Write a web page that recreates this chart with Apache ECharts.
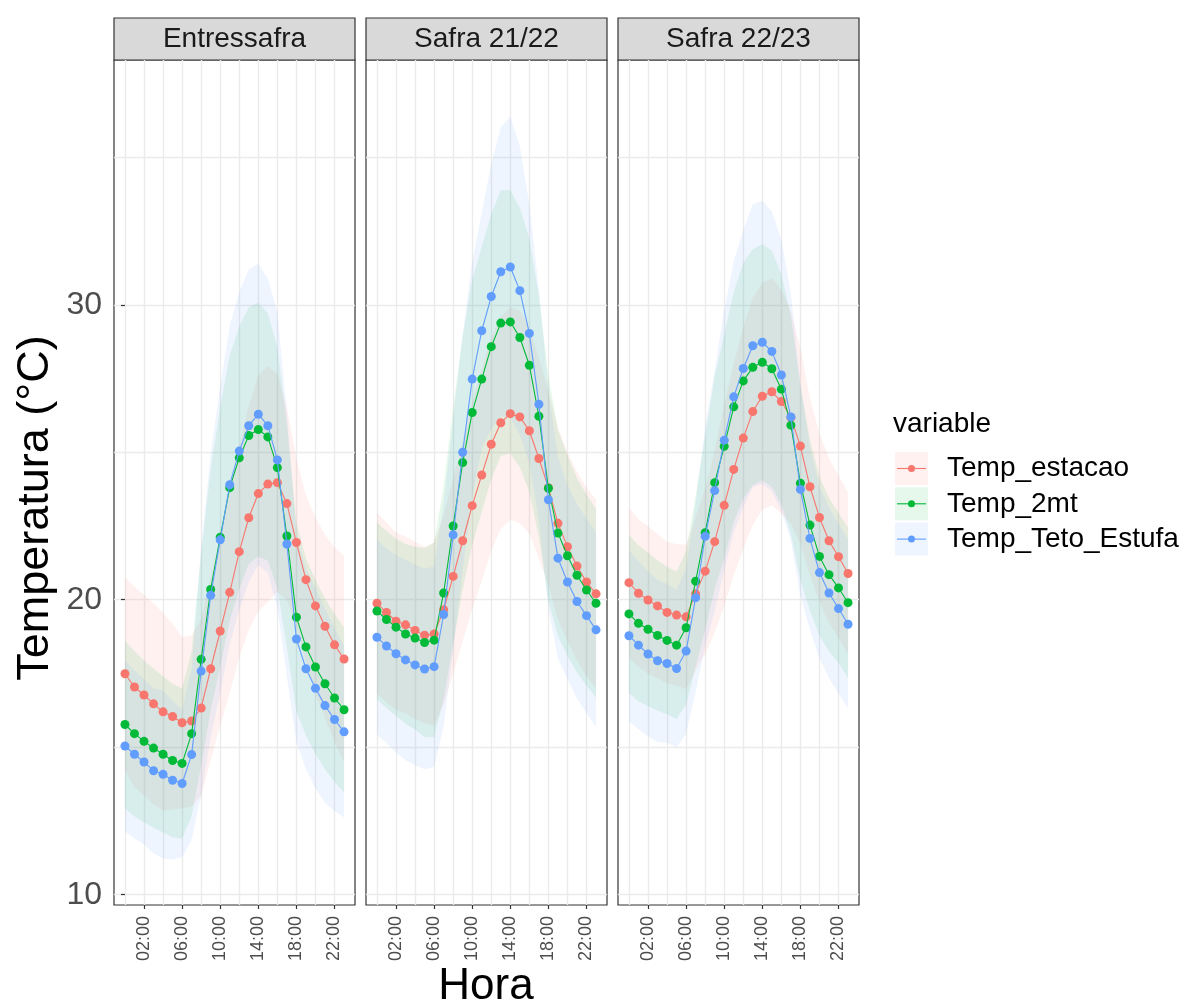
<!DOCTYPE html>
<html>
<head>
<meta charset="utf-8">
<script src="https://cdn.jsdelivr.net/npm/echarts@6/dist/echarts.min.js"></script>
<style>
  html, body { margin: 0; padding: 0; background: #fff; }
  #chart { width: 1191px; height: 1007px; }
</style>
</head>
<body>
<div id="chart"></div>
<script>
// horas do dia
const hours = [0,1,2,3,4,5,6,7,8,9,10,11,12,13,14,15,16,17,18,19,20,21,22,23];
const panels = ["Entressafra", "Safra 21/22", "Safra 22/23"];
const variables = ["Temp_estacao", "Temp_2mt", "Temp_Teto_Estufa"];
const colors = ["#F8766D", "#00BA38", "#619CFF"];
const yTicks = [10, 20, 30];
const xTicks = [2, 6, 10, 14, 18, 22];
const yGrid = [10, 15, 20, 25, 30, 35];
const xGrid = [0, 2, 4, 6, 8, 10, 12, 14, 16, 18, 20, 22];

// Entressafra: media e desvio
const entreEstacao = [17.49,17.04,16.77,16.47,16.2,16.04,15.83,15.89,16.33,17.66,18.94,20.25,21.63,22.78,23.6,23.92,23.97,23.26,21.94,20.68,19.79,19.1,18.47,17.99];
const entreEstacaoSd = [3.27,3.4,3.4,3.4,3.35,3.15,2.9,2.9,3.0,3.1,3.2,3.4,3.6,3.8,4.0,4.0,3.7,3.25,2.85,2.85,3.0,3.1,3.3,3.5];
const entre2mt = [15.77,15.46,15.2,14.97,14.76,14.55,14.45,15.46,17.98,20.35,22.12,23.8,24.81,25.57,25.77,25.52,24.48,22.16,19.41,18.4,17.72,17.15,16.67,16.27];
const entre2mtSd = [2.85,2.8,2.75,2.7,2.65,2.6,2.55,2.8,3.6,4.1,4.4,4.5,4.45,4.35,4.3,4.2,4.1,3.8,3.2,3.0,2.95,2.9,2.85,2.8];
const entreTeto = [15.04,14.76,14.5,14.2,14.08,13.88,13.77,14.75,17.58,20.15,22.03,23.9,25.04,25.9,26.29,25.9,24.74,21.89,18.67,17.66,17.0,16.41,15.94,15.52];
const entreTetoSd = [2.9,2.85,2.8,2.8,2.85,2.7,2.5,2.9,4.2,4.8,5.2,5.4,5.4,5.3,5.1,5.0,5.0,4.5,3.5,3.4,3.4,3.3,3.1,2.9];

// Safra 21/22
const s21Estacao = [19.88,19.57,19.27,19.15,18.96,18.8,18.84,19.66,20.79,22.0,23.19,24.23,25.27,26.0,26.31,26.2,25.73,24.79,23.8,22.59,21.8,21.14,20.6,20.2];
const s21EstacaoSd = [3.07,3.05,3.0,3.0,3.0,3.0,3.1,3.2,3.3,3.4,3.5,3.6,3.6,3.6,3.6,3.6,3.5,3.4,3.3,3.25,3.2,3.2,3.2,3.2];
const s21_2mt = [19.62,19.33,19.07,18.84,18.7,18.55,18.63,20.23,22.5,24.65,26.35,27.48,28.58,29.38,29.42,28.89,27.95,26.22,23.78,22.26,21.49,20.83,20.33,19.88];
const s21_2mtSd = [3.0,3.0,3.0,3.05,3.1,3.2,3.3,3.6,4.0,4.3,4.5,4.5,4.5,4.5,4.46,4.4,4.3,4.1,3.8,3.5,3.4,3.3,3.25,3.2];
const s21Teto = [18.73,18.43,18.17,17.96,17.79,17.65,17.73,19.5,22.2,25.0,27.48,29.12,30.28,31.12,31.28,30.48,29.03,26.63,23.39,21.41,20.6,19.94,19.46,18.98];
const s21TetoSd = [3.3,3.3,3.35,3.4,3.4,3.4,3.4,3.8,3.9,4.0,4.0,4.0,4.5,4.9,5.1,4.9,4.4,3.9,3.7,3.4,3.3,3.3,3.3,3.3];

// Safra 22/23
const s22Estacao = [20.58,20.22,19.99,19.79,19.57,19.48,19.42,20.2,20.97,21.97,23.2,24.42,25.48,26.38,26.9,27.05,26.72,26.18,25.21,23.83,22.79,22.0,21.46,20.89];
const s22EstacaoSd = [2.55,2.5,2.5,2.45,2.4,2.4,2.45,2.6,2.8,3.1,3.4,3.6,3.75,3.85,3.85,3.85,3.8,3.6,3.3,3.0,2.85,2.8,2.75,2.75];
const s22_2mt = [19.52,19.2,19.0,18.79,18.62,18.46,19.05,20.63,22.27,23.97,25.2,26.54,27.42,27.88,28.05,27.83,27.14,25.92,23.95,22.53,21.47,20.85,20.4,19.9];
const s22_2mtSd = [2.68,2.65,2.6,2.55,2.5,2.5,2.6,2.9,3.3,3.6,3.8,3.9,4.0,4.0,4.0,4.0,3.9,3.7,3.3,2.9,2.7,2.6,2.55,2.55];
const s22Teto = [18.78,18.46,18.16,17.93,17.84,17.67,18.26,20.07,22.15,23.7,25.41,26.88,27.84,28.61,28.73,28.42,27.62,26.2,23.74,22.08,20.92,20.23,19.7,19.17];
const s22TetoSd = [2.9,2.85,2.8,2.75,2.7,2.67,2.8,3.2,3.7,4.1,4.4,4.6,4.7,4.8,4.8,4.75,4.6,4.2,3.6,3.1,2.9,2.9,2.88,2.87];

const means = [
  [entreEstacao, entre2mt, entreTeto],
  [s21Estacao, s21_2mt, s21Teto],
  [s22Estacao, s22_2mt, s22Teto]
];
const sds = [
  [entreEstacaoSd, entre2mtSd, entreTetoSd],
  [s21EstacaoSd, s21_2mtSd, s21TetoSd],
  [s22EstacaoSd, s22_2mtSd, s22TetoSd]
];

const FONT = "Liberation Sans, Arial, sans-serif";
const gLeft = 114, gStep = 252, gWidth = 241, gTop = 60, gHeight = 845;

function fade(hex, a) {
  const n = parseInt(hex.slice(1), 16);
  return "rgba(" + (n >> 16) + "," + ((n >> 8) & 255) + "," + (n & 255) + "," + a + ")";
}

// faixa media +- desvio como poligono
function bandRender(color) {
  return function (params, api) {
    if (params.dataIndexInside !== 0) return null;
    const n = params.dataInsideLength;
    const pts = [];
    for (let k = 0; k < n; k++) pts.push(api.coord([api.value(0, k), api.value(1, k)]));
    for (let k = n - 1; k >= 0; k--) pts.push(api.coord([api.value(0, k), api.value(2, k)]));
    return { type: "polygon", shape: { points: pts }, style: { fill: fade(color, 0.1) } };
  };
}

const grid = [], xAxis = [], yAxis = [], series = [], graphic = [];

panels.forEach(function (name, p) {
  grid.push({
    left: gLeft + p * gStep, top: gTop, width: gWidth, height: gHeight,
    show: true, borderColor: "#333333", borderWidth: 1.2, backgroundColor: "#fff"
  });
  xAxis.push({
    type: "value", gridIndex: p, min: -1.15, max: 24.15,
    splitLine: { show: false }, axisLine: { show: false },
    axisTick: { show: true, customValues: xTicks, length: 4, lineStyle: { color: "#333333", width: 1.2 } },
    axisLabel: {
      customValues: xTicks, rotate: 90, fontSize: 18, color: "#4D4D4D", margin: 11, fontFamily: FONT,
      formatter: function (v) { return (v < 10 ? "0" : "") + v + ":00"; }
    }
  });
  yAxis.push({
    type: "value", gridIndex: p, min: 9.65, max: 38.3,
    splitLine: { show: false }, axisLine: { show: false },
    axisTick: { show: p === 0, customValues: yTicks, length: 4, lineStyle: { color: "#333333", width: 1.2 } },
    axisLabel: { show: p === 0, customValues: yTicks, fontSize: 32, color: "#4D4D4D", margin: 12, fontFamily: FONT }
  });

  // linhas de grade
  series.push({
    type: "line", xAxisIndex: p, yAxisIndex: p, data: [], z: 0, silent: true,
    markLine: {
      z: 0, silent: true, symbol: "none", animation: false, label: { show: false },
      lineStyle: { color: "#EBEBEB", width: 1.4, type: "solid" },
      emphasis: { disabled: true },
      data: yGrid.map(function (v) { return { yAxis: v }; })
        .concat(xGrid.map(function (v) { return { xAxis: v }; }))
    }
  });

  variables.forEach(function (v, s) {
    const m = means[p][s], d = sds[p][s];
    series.push({
      type: "custom", name: v, xAxisIndex: p, yAxisIndex: p, z: 1, silent: true,
      renderItem: bandRender(colors[s]),
      encode: { x: 0, y: [1, 2] },
      data: hours.map(function (h, k) { return [h, m[k] - d[k], m[k] + d[k]]; })
    });
  });
  variables.forEach(function (v, s) {
    const m = means[p][s];
    series.push({
      type: "line", name: v, xAxisIndex: p, yAxisIndex: p, z: 2 + s,
      symbol: "circle", symbolSize: 9, showSymbol: true,
      itemStyle: { color: colors[s], borderWidth: 0 },
      lineStyle: { color: colors[s], width: 1.1 },
      data: hours.map(function (h, k) { return [h, m[k]]; })
    });
  });

  // faixa do titulo do painel
  const x0 = gLeft + p * gStep;
  graphic.push({
    type: "rect", shape: { x: x0, y: 18, width: gWidth, height: 42 },
    style: { fill: "#D9D9D9", stroke: "#333333", lineWidth: 1.2 }
  });
  graphic.push({
    type: "text", x: x0 + gWidth / 2, y: 39,
    style: { text: name, font: "28px " + FONT, fill: "#1A1A1A", textAlign: "center", textVerticalAlign: "middle" }
  });
});

// titulos dos eixos
graphic.push({
  type: "text", x: 36, y: 508, rotation: Math.PI / 2,
  style: { text: "Temperatura (°C)", font: "45px " + FONT, fill: "#000", textAlign: "center", textVerticalAlign: "middle" }
});
graphic.push({
  type: "text", x: 486, y: 987,
  style: { text: "Hora", font: "44px " + FONT, fill: "#000", textAlign: "center", textVerticalAlign: "middle" }
});

// legenda
graphic.push({
  type: "text", x: 893, y: 424,
  style: { text: "variable", font: "28px " + FONT, fill: "#000", textAlign: "left", textVerticalAlign: "middle" }
});
variables.forEach(function (v, s) {
  const ky = 452 + s * 35.3;
  graphic.push({ type: "rect", shape: { x: 895, y: ky, width: 33, height: 33 }, style: { fill: fade(colors[s], 0.1) } });
  graphic.push({ type: "line", shape: { x1: 897, y1: ky + 16.5, x2: 926, y2: ky + 16.5 }, style: { stroke: colors[s], lineWidth: 1.1 } });
  graphic.push({ type: "circle", shape: { cx: 911.5, cy: ky + 16.5, r: 3.5 }, style: { fill: colors[s] } });
  graphic.push({
    type: "text", x: 947, y: ky + 16.5,
    style: { text: v, font: "28px " + FONT, fill: "#000", textAlign: "left", textVerticalAlign: "middle" }
  });
});

const myChart = echarts.init(document.getElementById("chart"));
myChart.setOption({
  animation: false,
  backgroundColor: "#fff",
  textStyle: { fontFamily: FONT },
  grid: grid,
  xAxis: xAxis,
  yAxis: yAxis,
  series: series,
  graphic: graphic
});
</script>
</body>
</html>
